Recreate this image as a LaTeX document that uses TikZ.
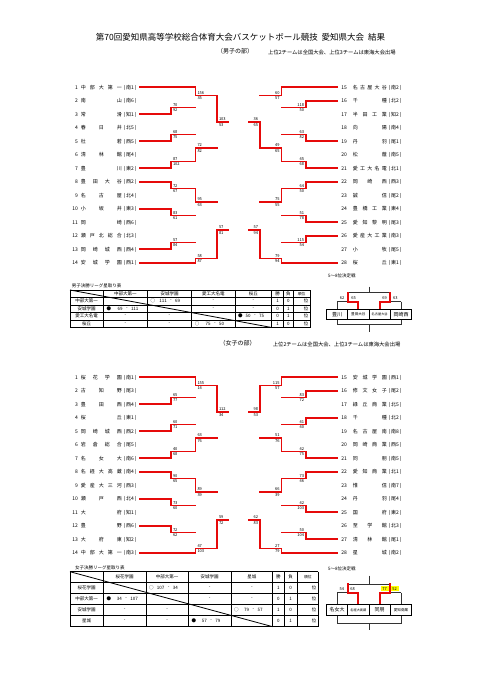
\documentclass[tikz,border=0pt]{standalone}
\usepackage{fontspec}
\setmainfont{Noto Sans CJK JP}
\pgfdeclarelayer{bg}
\pgfsetlayers{bg,main}
\definecolor{rd}{RGB}{230,10,10}
\definecolor{gy}{RGB}{105,105,105}
\definecolor{hl}{RGB}{255,255,0}
\newcounter{nid}
\makeatletter
\def\spr@a#1{#1\spr@b}
\def\spr@b#1{\ifx#1\relax\else\hfill#1\expandafter\spr@b\fi}
\newcommand\spread[1]{\spr@a#1\relax}
\makeatother
\newcommand\fs[1]{\fontsize{#1}{#1}\selectfont}
\tikzset{
 rl/.style={draw=rd,line width=1.8pt,line cap=rect,line join=miter},
 gl/.style={draw=gy,line width=0.8pt},
 bl/.style={draw=black!80,line width=0.6pt},
 tl/.style={draw=black,line width=0.5pt},
 sc/.style={font=\fs{4},inner sep=0pt},
 tm/.style={font=\fs{5},inner sep=0pt},
 tx/.style={font=\fs{4.5},inner sep=0pt},
}
\newcommand\red[1]{\draw[rl] #1;}
\newcommand\gry[1]{\begin{pgfonlayer}{bg}\draw[gl] #1;\end{pgfonlayer}}
% match: Xa ya Xb yb X ym winner s1 s2
\newcommand\M[9]{%
  \ifnum#7=1
    \red{(#1,#2)--(#5,#2)--(#5,#6)}%
    \ifdim#3pt=\TX pt \gry{(#3,#4)--(#5,#4)}\else\red{(#3,#4)--(#5,#4)}\fi
    \gry{(#5,#4)--(#5,#6)}%
  \else
    \red{(#3,#4)--(#5,#4)--(#5,#6)}%
    \ifdim#1pt=\TX pt \gry{(#1,#2)--(#5,#2)}\else\red{(#1,#2)--(#5,#2)}\fi
    \gry{(#5,#2)--(#5,#6)}%
  \fi
  \stepcounter{nid}%
  \if L\side
    \node[sc,anchor=south west,xshift=1.8pt,yshift=1.1pt] (s\arabic{nid}a) at (#5,#6) {#8};
    \node[sc,anchor=north west,xshift=1.8pt,yshift=-1.1pt] (s\arabic{nid}b) at (#5,#6) {#9};
  \else
    \node[sc,anchor=south east,xshift=-1.8pt,yshift=1.1pt] (s\arabic{nid}a) at (#5,#6) {#8};
    \node[sc,anchor=north east,xshift=-1.8pt,yshift=-1.1pt] (s\arabic{nid}b) at (#5,#6) {#9};
  \fi}
\newcommand\LT[4]{\stepcounter{nid}%
 \node[tm,anchor=base east,yshift=-1.8pt] (n\arabic{nid}) at (78,#1) {#2};
 \node[tm,anchor=base west,yshift=-1.8pt] (m\arabic{nid}) at (80.7,#1) {\makebox[41pt]{\spread{#3}}};
 \node[tm,anchor=base west,yshift=-1.8pt] (d\arabic{nid}) at (123.5,#1) {(\,#4\,)};}
\newcommand\RT[4]{\stepcounter{nid}%
 \node[tm,anchor=base east,yshift=-1.8pt] (n\arabic{nid}) at (347,#1) {#2};
 \node[tm,anchor=base west,yshift=-1.8pt] (m\arabic{nid}) at (352.7,#1) {\makebox[34pt]{\spread{#3}}};
 \node[tm,anchor=base west,yshift=-1.8pt] (d\arabic{nid}) at (388.5,#1) {(\,#4\,)};}
% score cell: xl xr y sym a b
\newcommand\SC[6]{\stepcounter{nid}%
 \pgfmathsetmacro\cx{(#1+#2)/2+1.5}%
 \node[tx,anchor=west] (c\arabic{nid}o) at (#1+3,#3) {#4};
 \node[tx] (c\arabic{nid}d) at (\cx,#3) {-};
 \node[tx,anchor=east] (c\arabic{nid}a) at (\cx-4,#3) {#5};
 \node[tx,anchor=west] (c\arabic{nid}b) at (\cx+4,#3) {#6};}
\newcommand\DC[2]{\stepcounter{nid}\node[tx] (e\arabic{nid}) at (#1,#2) {-};}

\begin{document}
\begin{tikzpicture}[x=1pt,y=-1pt]
\useasboundingbox (0,0) rectangle (481,680);
\fill[white] (0,0) rectangle (481,680);

% headings
\node[inner sep=0,font=\fs{8.5}] (title) at (240.5,37.7) {第70回愛知県高等学校総合体育大会バスケットボール競技\ \ 愛知県大会\ \ 結果};
\node[inner sep=0,font=\fs{6}] (msub) at (235,51) {（男子の部）};
\node[inner sep=0,font=\fs{5.3},anchor=west] (mnote) at (268,52) {上位2チームは全国大会、上位3チームは東海大会出場};
\node[inner sep=0,font=\fs{6}] (wsub) at (237.5,343.3) {（女子の部）};
\node[inner sep=0,font=\fs{5.3},anchor=west] (wnote) at (272.7,344) {上位2チームは全国大会、上位3チームは東海大会出場};

% ================= MEN =================
\def\side{L}\def\TX{140}
\M{140}{100.8}{140}{114.3}{171}{107.55}{2}{70}{92}
\M{140}{127.8}{140}{141.3}{171}{134.55}{2}{68}{75}
\M{140}{154.8}{140}{168.3}{171}{161.55}{2}{87}{102}
\M{140}{181.8}{140}{195.3}{171}{188.55}{1}{72}{67}
\M{140}{208.8}{140}{222.3}{171}{215.55}{1}{83}{61}
\M{140}{235.8}{140}{249.3}{171}{242.55}{2}{57}{84}
\M{140}{87.3}{171}{107.55}{195.5}{95.5}{1}{156}{35}
\M{171}{134.55}{171}{161.55}{195.5}{148.05}{2}{72}{82}
\M{171}{188.55}{171}{215.55}{195.5}{202.05}{1}{95}{63}
\M{171}{242.55}{140}{262.8}{195.5}{258.5}{2}{58}{87}
\M{195.5}{95.5}{195.5}{148.05}{217}{121.8}{1}{103}{53}
\M{195.5}{202.05}{195.5}{258.5}{217}{230.3}{2}{57}{81}
\red{(217,121.8)--(228,121.8)}
\red{(217,230.3)--(228,230.3)}
\def\side{R}\def\TX{337}
\M{337}{100.8}{337}{114.3}{306}{107.55}{1}{118}{50}
\M{337}{127.8}{337}{141.3}{306}{134.55}{2}{63}{82}
\M{337}{154.8}{337}{168.3}{306}{161.55}{2}{45}{68}
\M{337}{181.8}{337}{195.3}{306}{188.55}{1}{64}{50}
\M{337}{208.8}{337}{222.3}{306}{215.55}{2}{51}{78}
\M{337}{235.8}{337}{249.3}{306}{242.55}{1}{115}{54}
\M{337}{87.3}{306}{107.55}{281.5}{95.5}{1}{60}{57}
\M{306}{134.55}{306}{161.55}{281.5}{148.05}{2}{49}{65}
\M{306}{188.55}{306}{215.55}{281.5}{202.05}{1}{75}{55}
\M{306}{242.55}{337}{262.8}{281.5}{258.5}{2}{79}{94}
\M{281.5}{95.5}{281.5}{148.05}{260}{121.8}{2}{36}{65}
\M{281.5}{202.05}{281.5}{258.5}{260}{230.3}{2}{57}{94}
\red{(260,121.8)--(249,121.8)}
\red{(260,230.3)--(249,230.3)}

\LT{87.3}{1}{中部大第一}{南1}
\LT{100.8}{2}{南山}{南6}
\LT{114.3}{3}{常滑}{知1}
\LT{127.8}{4}{春日井}{北5}
\LT{141.3}{5}{杜若}{西5}
\LT{154.8}{6}{清林館}{尾4}
\LT{168.3}{7}{豊川}{東2}
\LT{181.8}{8}{豊田大谷}{西2}
\LT{195.3}{9}{名古屋}{北4}
\LT{208.8}{10}{小坂井}{東3}
\LT{222.3}{11}{岡崎}{西6}
\LT{235.8}{12}{瀬戸北総合}{北3}
\LT{249.3}{13}{岡崎城西}{西4}
\LT{262.8}{14}{安城学園}{西1}
\RT{87.3}{15}{名古屋大谷}{南2}
\RT{100.8}{16}{千種}{北2}
\RT{114.3}{17}{半田工業}{知2}
\RT{127.8}{18}{向陽}{南4}
\RT{141.3}{19}{丹羽}{尾1}
\RT{154.8}{20}{松蔭}{南5}
\RT{168.3}{21}{愛工大名電}{北1}
\RT{181.8}{22}{岡崎西}{西3}
\RT{195.3}{23}{誠信}{尾2}
\RT{208.8}{24}{豊橋工業}{東4}
\RT{222.3}{25}{愛知黎明}{尾3}
\RT{235.8}{26}{愛産大工業}{南3}
\RT{249.3}{27}{小牧}{尾5}
\RT{262.8}{28}{桜丘}{東1}

% men league table
\node[tx,anchor=base west] (mtt) at (71.7,287) {男子決勝リーグ星取り表};
\foreach \x in {70,103.3,147.3,191.7,235,271.7,283.3,293.3,310} \draw[tl] (\x,290)--(\x,327.5);
\foreach \y in {290,297.5,305,312.5,320,327.5} \draw[tl] (70,\y)--(310,\y);
\draw[tl,line width=0.8pt] (70,290)--(271.7,327.5);
\node[tx] (mh2) at (125.3,293.75) {中部大第一};
\node[tx] (mh3) at (169.5,293.75) {安城学園};
\node[tx] (mh4) at (213.35,293.75) {愛工大名電};
\node[tx] (mh5) at (253.35,293.75) {桜丘};
\node[tx] (mh6) at (277.5,293.75) {勝};
\node[tx] (mh7) at (288.3,293.75) {負};
\node[tx,font=\fs{3.8}] (mh8) at (301.65,293.75) {順位};
\node[tx] (mr1) at (86.65,301.25) {中部大第一};
\node[tx] (mr2) at (86.65,308.75) {安城学園};
\node[tx] (mr3) at (86.65,316.25) {愛工大名電};
\node[tx] (mr4) at (86.65,323.75) {桜丘};
\SC{147.3}{191.7}{301.25}{○}{111}{69}
\DC{213.35}{301.25}\DC{253.35}{301.25}
\SC{103.3}{147.3}{308.75}{●}{69}{111}
\DC{213.35}{308.75}\DC{253.35}{308.75}
\DC{125.3}{316.25}\DC{169.5}{316.25}
\SC{235}{271.7}{316.25}{●}{50}{75}
\DC{125.3}{323.75}\DC{169.5}{323.75}
\SC{191.7}{235}{323.75}{○}{75}{50}
\foreach \r/\y/\w/\l in {1/301.25/1/0,2/308.75/0/1,3/316.25/0/1,4/323.75/1/0}{
  \node[tx,font=\fs{4.5}\itshape] (mw\r) at (277.5,\y) {\w};
  \node[tx,font=\fs{4.5}\itshape] (ml\r) at (288.3,\y) {\l};
  \node[tx,anchor=east] (mp\r) at (308.5,\y) {位};}

% men 5-8
\node[tx,anchor=base west] (m58) at (328,277.5) {5～8位決定戦};
\draw[bl] (369,286.7)--(369,292.7);
\draw[bl] (347.8,292.7)--(390.3,292.7);
\draw[bl] (337.2,301.7)--(358.35,301.7) (379.65,301.7)--(401,301.7);
\draw[bl] (337.2,301.7)--(337.2,309.3) (390.3,292.7)--(390.3,301.7) (401,301.7)--(401,309.3);
\draw[rl] (358.35,309.3)--(358.35,301.7)--(347.8,301.7)--(347.8,292.7);
\draw[rl] (379.65,309.3)--(379.65,301.7)--(390.3,301.7)--(390.3,292.7);
\draw[bl] (337.2,319.3)--(337.2,324)--(401,324)--(401,319.3) (369,324)--(369,331.5);
\foreach \a/\b/\t/\s [count=\i] in {326.7/347.7/豊川/5,347.7/369/豊田大谷/3.6,369/390.3/名古屋大谷/3.2,390.3/411.7/岡崎西/5}{
  \draw[tl] (\a,309.3) rectangle (\b,319.3);
  \node[inner sep=0,font=\fs{\s}] (mb\i) at ({(\a+\b)/2},314.3) {\t};}
\node[sc,anchor=base] (m58a) at (342,299.6) {62};
\node[sc,anchor=base] (m58b) at (353.7,299.6) {65};
\node[sc,anchor=base] (m58c) at (384.7,299.6) {69};
\node[sc,anchor=base] (m58d) at (395.3,299.6) {63};

% ================= WOMEN =================
\begin{scope}[yshift=-290pt]
\def\side{L}\def\TX{140}
\M{140}{100.8}{140}{114.3}{171}{107.55}{2}{65}{77}
\M{140}{127.8}{140}{141.3}{171}{134.55}{2}{60}{71}
\M{140}{154.8}{140}{168.3}{171}{161.55}{2}{40}{68}
\M{140}{181.8}{140}{195.3}{171}{188.55}{1}{90}{65}
\M{140}{208.8}{140}{222.3}{171}{215.55}{1}{73}{60}
\M{140}{235.8}{140}{249.3}{171}{242.55}{1}{72}{62}
\M{140}{87.3}{171}{107.55}{195.5}{95.5}{1}{155}{14}
\M{171}{134.55}{171}{161.55}{195.5}{148.05}{2}{63}{76}
\M{171}{188.55}{171}{215.55}{195.5}{202.05}{1}{89}{39}
\M{171}{242.55}{140}{262.8}{195.5}{258.5}{2}{47}{103}
\M{195.5}{95.5}{195.5}{148.05}{217}{121.8}{1}{112}{34}
\M{195.5}{202.05}{195.5}{258.5}{217}{230.3}{2}{59}{72}
\red{(217,121.8)--(228,121.8)}
\red{(217,230.3)--(228,230.3)}
\def\side{R}\def\TX{337}
\M{337}{100.8}{337}{114.3}{306}{107.55}{1}{83}{72}
\M{337}{127.8}{337}{141.3}{306}{134.55}{1}{41}{40}
\M{337}{154.8}{337}{168.3}{306}{161.55}{2}{42}{75}
\M{337}{181.8}{337}{195.3}{306}{188.55}{1}{73}{46}
\M{337}{208.8}{337}{222.3}{306}{215.55}{2}{42}{103}
\M{337}{235.8}{337}{249.3}{306}{242.55}{2}{50}{104}
\M{337}{87.3}{306}{107.55}{281.5}{95.5}{1}{115}{57}
\M{306}{134.55}{306}{161.55}{281.5}{148.05}{2}{51}{76}
\M{306}{188.55}{306}{215.55}{281.5}{202.05}{1}{66}{39}
\M{306}{242.55}{337}{262.8}{281.5}{258.5}{2}{27}{79}
\M{281.5}{95.5}{281.5}{148.05}{260}{121.8}{1}{98}{53}
\M{281.5}{202.05}{281.5}{258.5}{260}{230.3}{2}{62}{83}
\red{(260,121.8)--(249,121.8)}
\red{(260,230.3)--(249,230.3)}

\LT{87.3}{1}{桜花学園}{南1}
\LT{100.8}{2}{古知野}{尾3}
\LT{114.3}{3}{豊田西}{西4}
\LT{127.8}{4}{桜丘}{東1}
\LT{141.3}{5}{岡崎城西}{西2}
\LT{154.8}{6}{岩倉総合}{尾5}
\LT{168.3}{7}{名女大}{南6}
\LT{181.8}{8}{名経大高蔵}{南4}
\LT{195.3}{9}{愛産大三河}{西3}
\LT{208.8}{10}{瀬戸西}{北4}
\LT{222.3}{11}{大府}{知1}
\LT{235.8}{12}{豊野}{西6}
\LT{249.3}{13}{大府東}{知2}
\LT{262.8}{14}{中部大第一}{南3}
\RT{87.3}{15}{安城学園}{西1}
\RT{100.8}{16}{修文女子}{尾2}
\RT{114.3}{17}{緑丘商業}{北5}
\RT{127.8}{18}{千種}{北2}
\RT{141.3}{19}{名古屋南}{南8}
\RT{154.8}{20}{岡崎商業}{西5}
\RT{168.3}{21}{同朋}{南5}
\RT{181.8}{22}{愛知商業}{北1}
\RT{195.3}{23}{惟信}{南7}
\RT{208.8}{24}{丹羽}{尾4}
\RT{222.3}{25}{国府}{東2}
\RT{235.8}{26}{至学館}{北3}
\RT{249.3}{27}{清林館}{尾1}
\RT{262.8}{28}{星城}{南2}
\end{scope}

% women league table
\node[tx,anchor=base west] (wtt) at (75,569) {女子決勝リーグ星取り表};
\foreach \x in {70,103.3,146,188.3,231,272.7,284,297.3,318.3} \draw[tl] (\x,571.7)--(\x,626.7);
\foreach \y in {571.7,582.7,593.7,604.7,615.7,626.7} \draw[tl] (70,\y)--(318.3,\y);
\draw[tl,line width=0.8pt] (70,571.7)--(272.7,626.7);
\node[tx] (wh2) at (124.65,577.2) {桜花学園};
\node[tx] (wh3) at (167.15,577.2) {中部大第一};
\node[tx] (wh4) at (209.65,577.2) {安城学園};
\node[tx] (wh5) at (251.85,577.2) {星城};
\node[tx] (wh6) at (278.35,577.2) {勝};
\node[tx] (wh7) at (290.65,577.2) {負};
\node[tx,font=\fs{3.8}] (wh8) at (307.8,577.2) {順位};
\node[tx] (wr1) at (86.65,588.2) {桜花学園};
\node[tx] (wr2) at (86.65,599.2) {中部大第一};
\node[tx] (wr3) at (86.65,610.2) {安城学園};
\node[tx] (wr4) at (86.65,621.2) {星城};
\SC{146}{188.3}{588.2}{○}{107}{34}
\DC{209.65}{588.2}\DC{251.85}{588.2}
\SC{103.3}{146}{599.2}{●}{34}{107}
\DC{209.65}{599.2}\DC{251.85}{599.2}
\DC{124.65}{610.2}\DC{167.15}{610.2}
\SC{231}{272.7}{610.2}{○}{79}{57}
\DC{124.65}{621.2}\DC{167.15}{621.2}
\SC{188.3}{231}{621.2}{●}{57}{79}
\foreach \r/\y/\w/\l in {1/588.2/1/0,2/599.2/0/1,3/610.2/1/0,4/621.2/0/1}{
  \node[tx,font=\fs{4.5}\itshape] (ww\r) at (278.35,\y) {\w};
  \node[tx,font=\fs{4.5}\itshape] (wl\r) at (290.65,\y) {\l};
  \node[tx,anchor=east] (wp\r) at (316.5,\y) {位};}

% women 5-8
\node[tx,anchor=base west] (w58) at (328,570) {5～8位決定戦};
\draw[bl] (369,575.7)--(369,584.3);
\draw[bl] (347.8,584.3)--(390.3,584.3);
\draw[bl] (337.2,592.7)--(358.35,592.7) (379.65,592.7)--(401,592.7);
\draw[bl] (337.2,592.7)--(337.2,604.3) (401,592.7)--(401,604.3);
\fill[hl] (381,585.8) rectangle (388.5,591.3);
\fill[hl] (391,585.8) rectangle (398.5,591.3);
\draw[rl] (358.35,604.3)--(358.35,592.7)--(347.8,592.7)--(347.8,584.3);
\draw[rl] (379.65,604.3)--(379.65,592.7)--(390.3,592.7)--(390.3,584.3);
\draw[bl] (337.2,615.7)--(337.2,623.3)--(401,623.3)--(401,615.7) (369,623.3)--(369,630);
\foreach \a/\b/\t/\s [count=\i] in {326.7/347.7/名女大/5,347.7/369/名経大高蔵/3.2,369/390.3/同朋/5,390.3/411.7/愛知商業/3.6}{
  \draw[tl] (\a,604.3) rectangle (\b,615.7);
  \node[inner sep=0,font=\fs{\s}] (wb\i) at ({(\a+\b)/2},610) {\t};}
\node[sc,anchor=base] (w58a) at (341.8,590.3) {54};
\node[sc,anchor=base] (w58b) at (352.5,590.3) {68};
\node[sc,anchor=base] (w58c) at (384.7,590.3) {77};
\node[sc,anchor=base] (w58d) at (394.7,590.3) {52};
\end{tikzpicture}
\end{document}
